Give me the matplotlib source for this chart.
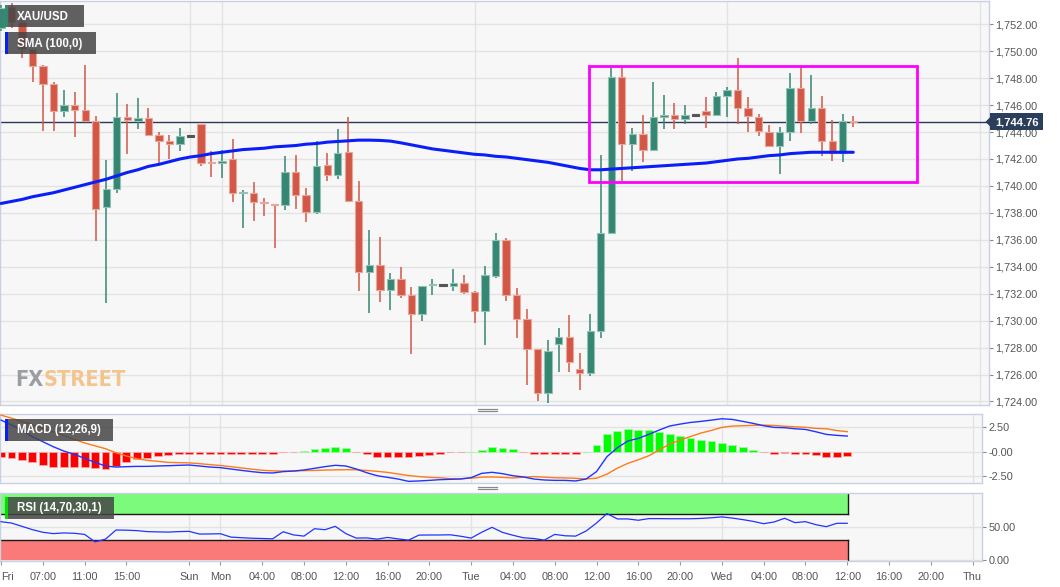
import matplotlib
matplotlib.use('Agg')
import matplotlib.pyplot as plt
from matplotlib.patches import Rectangle, Polygon
from matplotlib.lines import Line2D
from matplotlib.ticker import FuncFormatter, FixedLocator, FixedFormatter
from matplotlib import font_manager as fm
import numpy as np

plt.rcParams['font.family'] = ['Liberation Sans', 'DejaVu Sans']

# ---------------- data ----------------
opens = [1751.7, 1753.25, 1752.15, 1750.2, 1748.9, 1747.55, 1745.6, 1746.0, 1745.65, 1744.8,
         1738.45, 1739.8, 1745.1, 1744.85, 1745.05, 1743.8, 1743.3, 1743.1, 1743.7, 1744.6,
         1741.8, 1741.7, 1742.0, 1739.5, 1739.5, 1738.8, 1738.65, 1738.6, 1741.0, 1739.3,
         1738.05, 1741.55, 1740.8, 1742.5, 1738.9, 1733.6, 1734.1, 1732.3, 1733.1, 1731.9,
         1730.5, 1732.62, 1732.65, 1732.6, 1732.8, 1732.1, 1730.7, 1733.3, 1736.0, 1731.9,
         1730.1, 1727.9, 1724.65, 1728.3, 1728.8, 1726.4, 1726.1, 1729.25, 1736.5, 1748.1,
         1743.1, 1743.85, 1742.7, 1745.1, 1745.3, 1744.95, 1745.25, 1745.6, 1745.25, 1746.7,
         1747.1, 1745.8, 1745.15, 1744.0, 1742.95, 1744.0, 1747.25, 1744.85, 1745.8, 1743.3,
         1742.45, 1744.85]
highs = [1753.4, 1753.6, 1752.3, 1750.2, 1748.95, 1747.75, 1747.1, 1747.0, 1749.0, 1745.2,
         1741.9, 1746.9, 1746.1, 1746.5, 1745.8, 1744.0, 1743.8, 1744.3, 1743.7, 1744.6,
         1742.6, 1742.7, 1743.5, 1739.7, 1740.3, 1739.1, 1738.65, 1742.2, 1742.3, 1739.85,
         1743.3, 1742.45, 1744.2, 1745.1, 1740.35, 1736.7, 1736.2, 1733.5, 1734.0, 1732.5,
         1732.6, 1733.1, 1732.65, 1733.8, 1733.4, 1732.2, 1734.05, 1736.5, 1736.15, 1732.4,
         1730.9, 1727.9, 1728.55, 1729.45, 1730.4, 1727.6, 1730.5, 1742.3, 1748.85, 1748.8,
         1744.3, 1745.3, 1747.7, 1746.75, 1746.15, 1746.0, 1745.25, 1746.6, 1746.95, 1747.35,
         1749.5, 1746.6, 1745.35, 1744.5, 1744.4, 1748.35, 1748.85, 1748.2, 1746.7, 1744.9,
         1745.35, 1745.2]
lows = [1751.5, 1751.7, 1749.5, 1747.7, 1744.1, 1744.1, 1745.1, 1743.6, 1744.8, 1735.9,
        1731.3, 1739.5, 1742.4, 1744.2, 1743.8, 1741.6, 1742.0, 1742.6, 1743.7, 1741.5,
        1740.7, 1740.6, 1738.8, 1736.9, 1737.4, 1737.8, 1735.4, 1738.2, 1738.3, 1737.3,
        1737.9, 1740.35, 1740.5, 1738.9, 1732.2, 1730.6, 1731.4, 1730.8, 1731.7, 1727.5,
        1730.0, 1731.9, 1732.65, 1732.2, 1731.95, 1729.85, 1728.2, 1733.2, 1731.45, 1728.7,
        1725.2, 1724.0, 1723.9, 1726.2, 1726.15, 1724.85, 1725.9, 1728.7, 1736.5, 1740.4,
        1741.1, 1741.8, 1742.6, 1744.2, 1744.2, 1744.6, 1745.25, 1744.3, 1745.2, 1745.15,
        1744.6, 1744.0, 1743.7, 1742.9, 1740.9, 1743.35, 1743.9, 1744.6, 1742.25, 1741.85,
        1741.8, 1744.35]
closes = [1753.2, 1752.15, 1750.2, 1748.9, 1747.6, 1745.6, 1746.0, 1745.65, 1744.8, 1738.3,
          1739.8, 1745.1, 1744.9, 1745.05, 1743.8, 1743.3, 1743.1, 1743.7, 1743.7, 1741.7,
          1741.7, 1741.85, 1739.5, 1739.55, 1738.8, 1738.7, 1738.55, 1741.0, 1739.3, 1738.05,
          1741.5, 1740.8, 1742.45, 1738.9, 1733.6, 1734.1, 1732.3, 1733.1, 1731.9, 1730.5,
          1732.6, 1732.7, 1732.65, 1732.8, 1732.1, 1730.7, 1733.4, 1735.95, 1731.9, 1730.1,
          1727.9, 1724.6, 1727.75, 1728.8, 1726.95, 1726.1, 1729.25, 1736.5, 1748.1, 1743.1,
          1743.85, 1742.7, 1745.1, 1745.3, 1744.95, 1745.25, 1745.25, 1745.25, 1746.65, 1747.1,
          1745.8, 1745.2, 1744.05, 1742.95, 1744.0, 1747.25, 1744.85, 1745.8, 1743.3, 1742.45,
          1744.8, 1744.76]
sma100 = [1738.7, 1738.85, 1739.0, 1739.2, 1739.35, 1739.5, 1739.7, 1739.9, 1740.1, 1740.3,
          1740.5, 1740.75, 1741.0, 1741.2, 1741.45, 1741.6, 1741.8, 1742.0, 1742.15, 1742.25,
          1742.4, 1742.5, 1742.6, 1742.7, 1742.75, 1742.8, 1742.9, 1742.95, 1743.0, 1743.1,
          1743.15, 1743.25, 1743.3, 1743.35, 1743.4, 1743.4, 1743.38, 1743.33, 1743.2, 1743.05,
          1742.9, 1742.75, 1742.65, 1742.55, 1742.45, 1742.35, 1742.3, 1742.2, 1742.15, 1742.05,
          1741.95, 1741.85, 1741.75, 1741.6, 1741.45, 1741.3, 1741.2, 1741.2, 1741.25, 1741.3,
          1741.35, 1741.4, 1741.45, 1741.5, 1741.55, 1741.6, 1741.65, 1741.7, 1741.8, 1741.9,
          1742.0, 1742.05, 1742.15, 1742.25, 1742.3, 1742.4, 1742.45, 1742.5, 1742.5, 1742.5,
          1742.5, 1742.5]
macd_line = [3.25, 2.74, 2.23, 1.54, 1.03, 0.51, 0.07, -0.27, -0.68, -1.10,
             -1.47, -1.58, -1.54, -1.51, -1.51, -1.47, -1.44, -1.40, -1.37, -1.47,
             -1.58, -1.64, -1.78, -1.92, -2.05, -2.16, -2.19, -2.05, -1.99, -1.88,
             -1.71, -1.54, -1.40, -1.47, -1.78, -2.16, -2.47, -2.64, -2.81, -3.05,
             -3.01, -2.95, -2.88, -2.84, -2.81, -2.67, -2.23, -2.12, -2.26, -2.47,
             -2.60, -2.81, -2.91, -2.95, -2.95, -3.01, -2.81, -2.05, -0.51, 0.41,
             1.10, 1.37, 1.78, 2.23, 2.64, 2.84, 3.01, 3.12, 3.25, 3.39,
             3.32, 3.12, 2.91, 2.67, 2.50, 2.47, 2.36, 2.29, 2.05, 1.78,
             1.68, 1.61]
signal_line = [3.76, 3.45, 3.12, 2.75, 2.40, 2.05, 1.65, 1.27, 0.90, 0.60,
               0.31, -0.11, -0.44, -0.72, -0.89, -0.99, -1.10, -1.13, -1.15, -1.23,
               -1.33, -1.42, -1.54, -1.67, -1.80, -1.91, -1.97, -1.99, -1.98, -1.95,
               -1.93, -1.89, -1.87, -1.85, -1.86, -1.93, -2.02, -2.13, -2.29, -2.45,
               -2.56, -2.64, -2.68, -2.78, -2.78, -2.72, -2.62, -2.60, -2.64, -2.70,
               -2.62, -2.56, -2.62, -2.68, -2.70, -2.74, -2.80, -2.73, -2.31, -1.69,
               -1.20, -0.83, -0.42, 0.18, 0.79, 1.19, 1.56, 1.92, 2.19, 2.50,
               2.64, 2.67, 2.71, 2.74, 2.70, 2.62, 2.56, 2.51, 2.40, 2.36,
               2.18, 2.06]
macd_hist = [-0.51, -0.68, -0.89, -1.10, -1.37, -1.54, -1.54, -1.54, -1.54, -1.71,
             -1.78, -1.47, -1.10, -0.79, -0.62, -0.48, -0.34, -0.27, -0.24, -0.24,
             -0.24, -0.24, -0.24, -0.24, -0.24, -0.24, -0.22, -0.06, -0.02, 0.05,
             0.24, 0.34, 0.48, 0.34, -0.05, -0.22, -0.50, -0.50, -0.50, -0.58,
             -0.45, -0.30, -0.22, -0.04, -0.03, 0.02, 0.20, 0.48, 0.40, 0.30,
             -0.04, -0.27, -0.27, -0.27, -0.27, -0.27, 0.02, 0.68, 1.80, 2.10,
             2.30, 2.20, 2.20, 2.05, 1.85, 1.65, 1.45, 1.20, 1.06, 0.89,
             0.68, 0.45, 0.20, -0.07, -0.20, -0.15, -0.20, -0.22, -0.35, -0.58,
             -0.50, -0.45]
rsi = [58, 56, 51, 46, 42, 40, 41, 40.5, 38.8, 27.5,
       31.6, 45.4, 45.2, 44.5, 43, 42.6, 42.3, 43, 43.4, 39.3,
       39.5, 39.8, 34.7, 33.8, 33, 32.6, 32.1, 42.8, 38, 36.2,
       47.4, 45.9, 51, 40, 33.2, 33.5, 31.6, 34.2, 32, 30.1,
       37.7, 37.9, 37.9, 38.2, 36, 33.2, 42, 49.5, 41.8, 37.5,
       33.7, 32.6, 30.1, 38.8, 36.7, 36.2, 43.9, 56, 70.4, 62.2,
       62.2, 60.2, 62.7, 62.7, 62.5, 62.5, 62.5, 63, 64, 65.3,
       63.5, 61.2, 58.5, 55, 57.6, 63.2, 56.6, 58.1, 53.5, 50.5,
       55.6, 55.6]

last_price = 1744.76
tick_pos = [0, 4, 8, 12, 18, 21, 25, 29, 33, 37, 41, 45, 49, 53, 57, 61, 65, 69, 73, 77, 81, 85, 89, 93]
tick_labels = ['Fri', '07:00', '11:00', '15:00', 'Sun', 'Mon', '04:00', '08:00', '12:00', '16:00',
               '20:00', 'Tue', '04:00', '08:00', '12:00', '16:00', '20:00', 'Wed', '04:00', '08:00',
               '12:00', '16:00', '20:00', 'Thu']
day_lines = [18, 21, 45, 69, 93]
price_ticks = list(range(1724, 1753, 2))
box_x = (55.9, 87.07)      # highlighted range (bar index)
box_y = (1740.3, 1748.9)   # highlighted range (price)
rsi_levels = (30, 70)

# ---------------- layout ----------------
W, H = 1060, 587
fig = plt.figure(figsize=(W / 100, H / 100), dpi=100)
fig.patch.set_facecolor('white')

def px_axes(x0, y0, x1, y1):
    return fig.add_axes([x0 / W, (H - y1) / H, (x1 - x0) / W, (y1 - y0) / H])

def fx(x):
    return x / W

def fy(y):
    return 1 - y / H

BG = '#f7f7f7'
GRID = '#e3e3e3'
SPINE = '#c9d0e2'
LBL = '#555555'
UP = '#358672'
DN = '#d25746'
UP_E = '#93c3b6'
DN_E = '#eba69c'
XLIM = (-0.1, 93.9)

ax = px_axes(0, 1, 989, 405)
axm = px_axes(0, 414, 982, 483)
axr = px_axes(0, 493, 982, 561)

for a in (ax, axm, axr):
    a.set_facecolor(BG)
    a.set_xlim(*XLIM)
    for s in a.spines.values():
        s.set_color(SPINE)
        s.set_linewidth(1)
    a.yaxis.tick_right()
    a.tick_params(axis='y', direction='out', length=3, width=0.8, color='#888888',
                  labelcolor=LBL, labelsize=7.8, pad=1.5)
    a.tick_params(axis='x', bottom=False, labelbottom=False)
    for d in day_lines:
        a.axvline(d, color=GRID, lw=1, zorder=0.5)
    a.set_axisbelow(True)

# ---------------- main price panel ----------------
n = len(opens)
idx = np.arange(n)
o = np.array(opens); c = np.array(closes); h = np.array(highs); l = np.array(lows)
doji = np.abs(o - c) < 0.02
cols = np.where(doji, '#555555', np.where(c > o, UP, DN))
ecols = np.where(doji, '#555555', np.where(c > o, UP_E, DN_E))
ax.vlines(idx, l, h, colors=cols, lw=1.1, zorder=3)
bottoms = np.minimum(o, c)
heights = np.where(doji, 0.12, np.abs(c - o))
bottoms = np.where(doji, o - 0.06, bottoms)
ax.bar(idx, heights, bottom=bottoms, width=0.7, color=cols, edgecolor=ecols, linewidth=0.8, zorder=4)
ax.plot(idx, sma100, color='#0a1ff7', lw=2.2, zorder=5, solid_capstyle='round')
ax.axhline(last_price, color='#2b3a55', lw=1, zorder=2.5)
ax.add_patch(Rectangle((box_x[0], box_y[0]), box_x[1] - box_x[0], box_y[1] - box_y[0],
                       fill=False, ec='#ff00ff', lw=2, zorder=6))
ax.set_ylim(1752 - (405 - 24.3) / 13.47, 1752 + (24.3 - 1) / 13.47)
ax.set_yticks(price_ticks)
ax.yaxis.set_major_formatter(FuncFormatter(lambda v, p: f'{v:,.2f}'))
ax.grid(axis='y', color=GRID, lw=1)

# ---------------- MACD panel ----------------
hist = np.array(macd_hist)
hcols = np.where(hist >= 0, '#00ff00', '#ff0000')
hecols = np.where(hist >= 0, '#a8f5a8', '#f5a8a8')
axm.bar(idx, hist, width=0.75, color=hcols, edgecolor=hecols, linewidth=0.6, zorder=2)
axm.plot(idx, signal_line, color='#ff7a1a', lw=1, zorder=3)
axm.plot(idx, macd_line, color='#1f35ff', lw=1, zorder=4)
axm.set_ylim((451.7 - 483) / 9.72, (451.7 - 414) / 9.72)
axm.yaxis.set_major_locator(FixedLocator([2.5, 0, -2.5]))
axm.yaxis.set_major_formatter(FixedFormatter(['2.50', '-0.00', '-2.50']))
axm.grid(axis='y', color=GRID, lw=1)

# ---------------- RSI panel ----------------
x_end = idx[-1] + 0.1
axr.add_patch(Rectangle((XLIM[0], rsi_levels[1]), x_end - XLIM[0], 100 - rsi_levels[1],
                        fc='#7cfa7c', ec='none', zorder=1))
axr.add_patch(Rectangle((XLIM[0], 0), x_end - XLIM[0], rsi_levels[0],
                        fc='#fa7a7a', ec='none', zorder=1))
axr.plot([XLIM[0], x_end], [rsi_levels[1]] * 2, color='#1a1a1a', lw=1, zorder=2)
axr.plot([XLIM[0], x_end], [rsi_levels[0]] * 2, color='#1a1a1a', lw=1, zorder=2)
axr.plot([x_end, x_end], [rsi_levels[1], 100], color='#1a1a1a', lw=1, zorder=2)
axr.plot([x_end, x_end], [0, rsi_levels[0]], color='#1a1a1a', lw=1, zorder=2)
axr.plot(idx, rsi, color='#1f35ff', lw=0.9, zorder=3)
axr.set_ylim(-1.5, 101.5)
axr.yaxis.set_major_locator(FixedLocator([0, 50]))
axr.yaxis.set_major_formatter(FixedFormatter(['0.00', '50.00']))
axr.grid(axis='y', color=GRID, lw=1)
axr.tick_params(axis='x', bottom=True, labelbottom=True, length=3, width=0.8,
                color='#999999', labelcolor=LBL, labelsize=7.8, pad=5)
axr.set_xticks(tick_pos)
axr.set_xticklabels(tick_labels)
axr.get_xticklabels()[0].set_ha('left')

# ---------------- overlays in figure pixels ----------------
def fig_rect(x0, y0, x1, y1, **kw):
    fig.patches.append(Rectangle((fx(x0), fy(y1)), fx(x1) - fx(x0), fy(y0) - fy(y1),
                                 transform=fig.transFigure, **kw))

LBOX = (0.27, 0.27, 0.27, 0.85)
labels = [((5, 5, 84, 27), UP, 'XAU/USD'),
          ((5, 32, 96, 54), '#0a1ff7', 'SMA (100,0)'),
          ((5, 419, 113, 441), '#0a1ff7', 'MACD (12,26,9)'),
          ((5, 497, 114, 519), '#00e000', 'RSI (14,70,30,1)')]
for (x0, y0, x1, y1), sc, txt in labels:
    fig_rect(x0, y0, x1, y1, fc=LBOX, ec='none', zorder=5)
    fig_rect(x0, y0, x0 + 2.5, y1, fc=sc, ec='none', zorder=6)
    fig.text(fx(x0 + 12), fy((y0 + y1) / 2 + 0.5), txt, color='white', fontsize=8.3,
             fontweight='bold', va='center', ha='left', zorder=7)

# current price tag
py = 24.3 + (1752 - last_price) * 13.47
fig_rect(990, py - 8.5, 1043, py + 8.5, fc='#2b3f5c', ec='none', zorder=5)
fig.patches.append(Polygon([(fx(985.5), fy(py)), (fx(990.5), fy(py - 5)), (fx(990.5), fy(py + 5))],
                           closed=True, transform=fig.transFigure, fc='#2b3f5c', ec='none', zorder=5))
fig.text(fx(1016.5), fy(py + 0.5), f'{last_price:,.2f}', color='white', fontsize=8,
         fontweight='bold', ha='center', va='center', zorder=7)

# panel resize handles
for yy in (408.5, 410.8, 486.5, 488.8):
    fig.lines.append(Line2D([fx(478), fx(497)], [fy(yy), fy(yy)], transform=fig.transFigure,
                            color='#8a8a8a', lw=0.9))

# FXSTREET watermark
def has_font(name):
    try:
        fm.findfont(fm.FontProperties(family=name), fallback_to_default=False)
        return True
    except Exception:
        return False

wm_family = ['Liberation Sans Narrow'] if has_font('Liberation Sans Narrow') else ['DejaVu Sans']
t1 = fig.text(fx(15), fy(386), 'FX', color='#9a9da2', fontsize=20, fontweight='bold',
              family=wm_family, fontstretch='condensed', ha='left', va='baseline', zorder=1.5)
fig.canvas.draw()
r = fig.canvas.get_renderer()
t2 = fig.text(0, fy(386), 'STREET', color='#f3c48c', fontsize=20, fontweight='bold',
              family=wm_family, fontstretch='condensed', ha='left', va='baseline', zorder=1.5)
w1 = t1.get_window_extent(r).width
w2 = t2.get_window_extent(r).width
scale = 110.0 / (w1 + w2)
t1.set_fontsize(20 * scale)
t2.set_fontsize(20 * scale)
fig.canvas.draw()
b1 = t1.get_window_extent(r)
t2.set_x(b1.x1 / W)

fig.savefig('out.png', dpi=100, facecolor='white')
